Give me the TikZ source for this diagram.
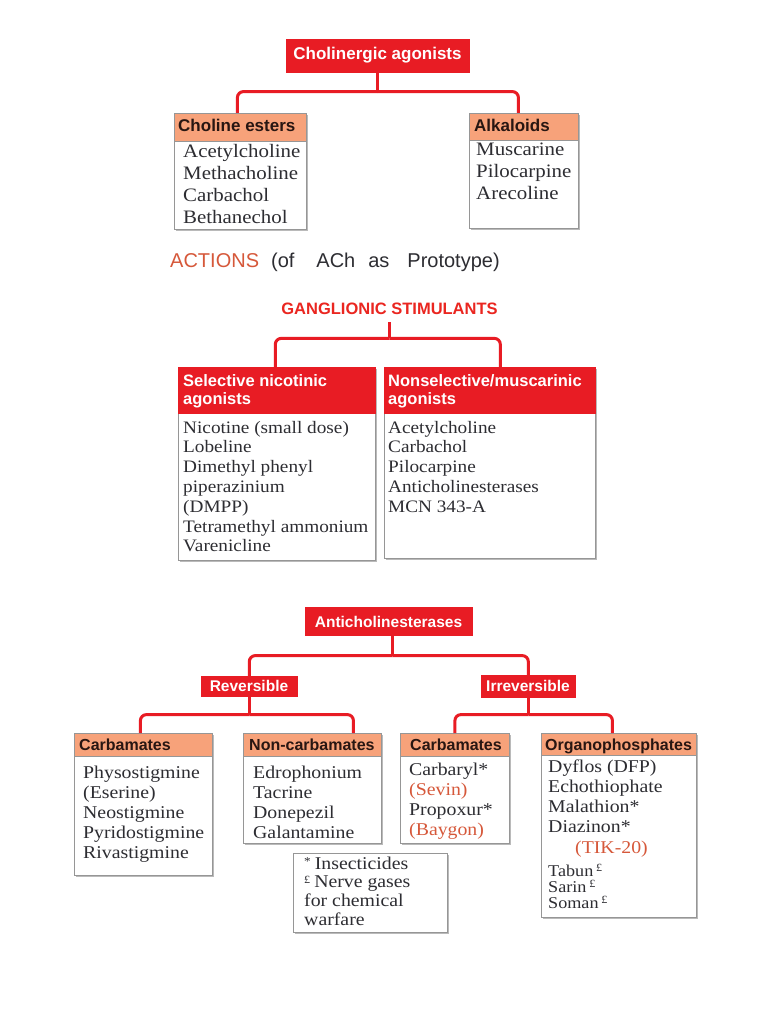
\documentclass[tikz,border=0pt]{standalone}
\usepackage{fontspec}
\setmainfont{Liberation Serif}[FakeStretch=1.1]
\setsansfont{Liberation Sans}
\usetikzlibrary{shadows}
\definecolor{cred}{RGB}{232,28,36}
\definecolor{corange}{RGB}{247,162,122}
\definecolor{cink}{RGB}{45,45,50}
\definecolor{cbrown}{RGB}{214,88,58}
\definecolor{cbord}{RGB}{150,150,150}
\definecolor{chead}{RGB}{40,22,18}
\newcommand\pnd{\smash{\raisebox{4.5pt}{\fontsize{11}{11}\selectfont £}}}
\newcommand\astx{\smash{\raisebox{4pt}{\fontsize{12}{12}\selectfont *}}}
\begin{document}
\begin{tikzpicture}[x=1pt,y=-1pt,
  conn/.style={draw=cred, line width=3pt},
  frame/.style={draw=cbord, line width=0.8pt, fill=white, inner sep=0pt, anchor=north west,
     drop shadow={shadow xshift=1.8pt, shadow yshift=-1.8pt, fill=black!45, opacity=0.6}},
  ohead/.style={draw=cbord, line width=0.8pt, fill=corange, inner sep=0pt, anchor=north west},
  rhead/.style={draw=cred, line width=0.6pt, fill=cred, inner sep=0pt, anchor=north west},
  htext/.style={font=\sffamily\bfseries\fontsize{17}{20}\selectfont, text=chead, inner sep=0pt, anchor=base west},
  hstext/.style={font=\sffamily\bfseries\fontsize{16}{19}\selectfont, text=chead, inner sep=0pt, anchor=base west},
  wtext/.style={font=\sffamily\bfseries\fontsize{17}{20}\selectfont, text=white, inner sep=0pt, anchor=base},
  wstext/.style={font=\sffamily\bfseries\fontsize{15.5}{18}\selectfont, text=white, inner sep=0pt, anchor=base},
  list/.style={text=cink, inner sep=0pt, anchor=base west},
  rc/.style={conn, rounded corners=6pt}]
\fill[white] (0,0) rectangle (768,1024);
\useasboundingbox (0,0) rectangle (768,1024);

% ---------- Top section ----------
\node[rhead, minimum width=183pt, minimum height=33pt] (cag) at (286,39) {};
\node[wtext] (cagt) at (377.5,59.5) {Cholinergic agonists};

\node[frame, minimum width=132pt, minimum height=116pt] (ce) at (174,113) {};
\node[ohead, minimum width=132pt, minimum height=28pt] (ceh) at (174,113) {};
\node[htext] (ceht) at (178,132) {Choline esters};
\node[list] (cel) at (183,158) {\parbox[t]{200pt}{\fontsize{19}{22}\selectfont
  Acetylcholine\\Methacholine\\Carbachol\\Bethanechol}};

\node[frame, minimum width=109pt, minimum height=115pt] (alk) at (469,113) {};
\node[ohead, minimum width=109pt, minimum height=27pt] (alkh) at (469,113) {};
\node[htext] (alkht) at (474,132) {Alkaloids};
\node[list] (alkl) at (476,156) {\parbox[t]{200pt}{\fontsize{19}{22}\selectfont
  Muscarine\\Pilocarpine\\Arecoline}};

\draw[conn] (cag.south) -- ++(0,19) coordinate (j1);
\draw[rc] (j1) -| ([xshift=-3pt]ceh.north);
\draw[rc] (j1) -| ([xshift=-5.5pt]alkh.north);

\node[list, font=\sffamily\fontsize{20}{24}\selectfont, text=cink] (act) at (170,267)
  {{\color{cbrown}ACTIONS}\hspace{12pt}(of\hspace{22pt}ACh\hspace{13pt}as\hspace{18pt}Prototype)};

% ---------- Middle section ----------
\node[inner sep=0pt, anchor=base, font=\sffamily\bfseries\fontsize{16.5}{20}\selectfont, text=cred!90!orange] (gs) at (389.5,314) {GANGLIONIC STIMULANTS};

\node[frame, minimum width=197pt, minimum height=193pt] (sn) at (178,367) {};
\node[rhead, minimum width=197pt, minimum height=46pt] (snh) at (178,367) {};
\node[list, text=white, font=\sffamily\bfseries] (snht) at (183,386.5) {\parbox[t]{190pt}{\fontsize{16.5}{17.5}\selectfont
  Selective nicotinic\\agonists}};
\node[list] (snl) at (183,433) {\parbox[t]{200pt}{\fontsize{17.5}{19.8}\selectfont
  Nicotine (small dose)\\Lobeline\\Dimethyl phenyl\\piperazinium\\(DMPP)\\Tetramethyl ammonium\\Varenicline}};

\node[frame, minimum width=211pt, minimum height=191pt] (ns) at (384,367) {};
\node[rhead, minimum width=211pt, minimum height=46pt] (nsh) at (384,367) {};
\node[list, text=white, font=\sffamily\bfseries] (nsht) at (388,386.5) {\parbox[t]{205pt}{\fontsize{16.5}{17.5}\selectfont
  Nonselective/muscarinic\\agonists}};
\node[list] (nsl) at (388,433) {\parbox[t]{200pt}{\fontsize{17.5}{19.8}\selectfont
  Acetylcholine\\Carbachol\\Pilocarpine\\Anticholinesterases\\MCN 343-A}};

\draw[conn] ([yshift=-8pt]gs.south) -- ++(0,16) coordinate (j2);
\draw[rc] (j2) -| ([xshift=-1.5pt]snh.north);
\draw[rc] (j2) -| ([xshift=10.5pt]nsh.north);

% ---------- Bottom section ----------
\node[rhead, minimum width=167pt, minimum height=28pt] (anti) at (305,607) {};
\node[wstext] (antit) at (388.5,627) {Anticholinesterases};
\node[rhead, minimum width=96pt, minimum height=20pt] (rev) at (201,676) {};
\node[wstext] (revt) at (249,691) {Reversible};
\node[rhead, minimum width=94pt, minimum height=22pt] (irr) at (481,675) {};
\node[wstext] (irrt) at (528,691) {Irreversible};

\draw[conn] ([xshift=3.5pt]anti.south) -- ++(0,20) coordinate (j3);
\draw[rc] (j3) -| (rev.north);
\draw[rc] (j3) -| (irr.north);

\node[frame, minimum width=138pt, minimum height=142pt] (cbl) at (74,733) {};
\node[ohead, minimum width=138pt, minimum height=23pt] (cblh) at (74,733) {};
\node[hstext] (cblht) at (79,750) {Carbamates};
\node[list] (cbll) at (83,778) {\parbox[t]{200pt}{\fontsize{18}{20}\selectfont
  Physostigmine\\(Eserine)\\Neostigmine\\Pyridostigmine\\Rivastigmine}};

\node[frame, minimum width=138pt, minimum height=110pt] (ncb) at (243,733) {};
\node[ohead, minimum width=138pt, minimum height=23pt] (ncbh) at (243,733) {};
\node[hstext] (ncbht) at (249,750) {Non-carbamates};
\node[list] (ncbl) at (253,778) {\parbox[t]{200pt}{\fontsize{18}{20}\selectfont
  Edrophonium\\Tacrine\\Donepezil\\Galantamine}};

\node[frame, minimum width=109pt, minimum height=110pt] (cbr) at (400,733) {};
\node[ohead, minimum width=109pt, minimum height=23pt] (cbrh) at (400,733) {};
\node[hstext] (cbrht) at (410,750) {Carbamates};
\node[list] (cbrl) at (409,775) {\parbox[t]{200pt}{\fontsize{18}{20}\selectfont
  Carbaryl*\\{\color{cbrown}(Sevin)}\\Propoxur*\\{\color{cbrown}(Baygon)}}};

\node[frame, minimum width=155pt, minimum height=184pt] (org) at (541,733) {};
\node[ohead, minimum width=155pt, minimum height=22pt] (orgh) at (541,733) {};
\node[hstext] (orght) at (545,750) {Organophosphates};
\node[list] (orgl) at (548,772) {\parbox[t]{200pt}{\fontsize{18}{20.3}\selectfont
  Dyflos (DFP)\\Echothiophate\\Malathion*\\Diazinon*\\\hspace*{27pt}{\color{cbrown}(TIK-20)}}};
\node[list] (orgm) at (548,876) {\parbox[t]{200pt}{\fontsize{16.5}{16}\selectfont
  Tabun\,\pnd\\Sarin\,\pnd\\Soman\,\pnd}};

\draw[conn] (rev.south) -- ++(0,18) coordinate (j4);
\draw[rc] (j4) -| ([xshift=-3pt]cblh.north);
\draw[rc] (j4) -| ([xshift=41pt]ncbh.north);
\draw[conn] (irr.south) -- ++(0,17) coordinate (j5);
\draw[rc] (j5) -| (cbrh.north);
\draw[rc] (j5) -| ([xshift=-6.5pt]orgh.north);

\node[frame, minimum width=154pt, minimum height=79pt] (foot) at (293,853) {};
\node[list] (footl) at (304,869) {\parbox[t]{150pt}{\fontsize{18}{18.7}\selectfont
  \astx\hspace{4pt}Insecticides\\\pnd\hspace{4pt}Nerve gases\\for chemical\\warfare}};
\end{tikzpicture}
\end{document}
